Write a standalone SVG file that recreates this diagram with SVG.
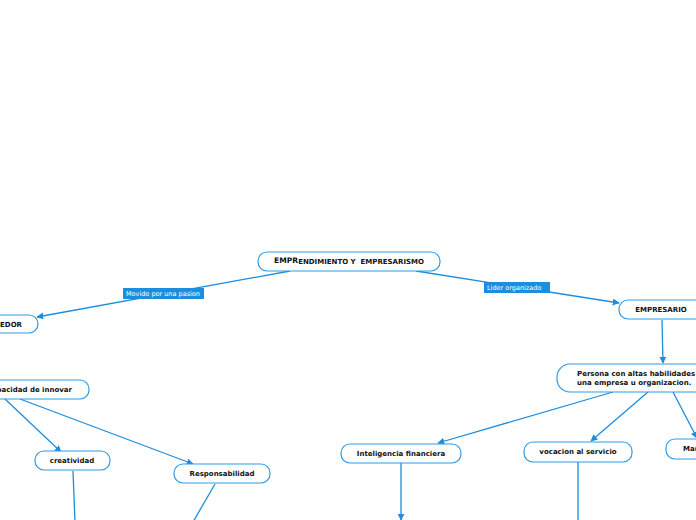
<svg xmlns="http://www.w3.org/2000/svg" width="696" height="520" viewBox="0 0 696 520">
<defs>
<marker id="ah" viewBox="0 0 10 10" refX="9" refY="5" markerWidth="7" markerHeight="7" orient="auto-start-reverse" markerUnits="userSpaceOnUse">
<path d="M0,0 L10,5 L0,10 z" fill="#1b8fdd"/>
</marker>
<style>
.n{fill:#fff;stroke:#2f9be3;stroke-width:1.2}
.t{font-family:"DejaVu Sans",Verdana,sans-serif;font-weight:bold;font-size:7px;fill:#111}
.c{stroke:#1b8fdd;stroke-width:1.3;fill:none}
.lb{fill:#1b8fdd}
.lt{font-family:"DejaVu Sans",Verdana,sans-serif;font-size:6.5px;fill:#fff}
</style>
</defs>
<rect width="696" height="520" fill="#fff"/>
<g id="connectors">
<path class="c" d="M290,271 L37,317" marker-end="url(#ah)"/>
<path class="c" d="M416,271 L619,303" marker-end="url(#ah)"/>
<path class="c" d="M662,320 L663,363" marker-end="url(#ah)"/>
<path class="c" d="M613,392 L438,443" marker-end="url(#ah)"/>
<path class="c" d="M648,392 L591,441" marker-end="url(#ah)"/>
<path class="c" d="M673,392 L697,438" marker-end="url(#ah)"/>
<path class="c" d="M401,463 L401,520" marker-end="url(#ah)"/>
<path class="c" d="M578,462 L578,522"/>
<path class="c" d="M5,399 L61,452" marker-end="url(#ah)"/>
<path class="c" d="M20,399 L193,464" marker-end="url(#ah)"/>
<path class="c" d="M73,471 L75,522"/>
<path class="c" d="M215,484 L193,522"/>
<g id="label1">
<rect class="lb" x="123" y="288" width="81" height="11"/>
<text class="lt" x="126" y="296">Movido por una pasion</text>
</g>
<g id="label2">
<rect class="lb" x="484" y="282" width="66" height="11"/>
<text class="lt" x="487" y="290">Lider organizado</text>
</g>
</g>
<g id="root">
<rect class="n" x="258" y="252" width="182" height="19" rx="9"/>
<text class="t" x="349" y="264" text-anchor="middle"><tspan font-size="7.6px" dy="-0.6">EMPR</tspan><tspan dy="0.6">ENDIMIENTO Y&#160; EMPRESARISMO</tspan></text>
</g>
<g id="emprendedor">
<rect class="n" x="-22" y="315" width="60" height="18" rx="9"/>
<text class="t" x="22" y="327" text-anchor="end">EMPRENDEDOR</text>
</g>
<g id="empresario">
<rect class="n" x="619" y="300" width="90" height="19" rx="9"/>
<text class="t" x="661" y="312" text-anchor="middle">EMPRESARIO</text>
</g>
<g id="persona">
<rect class="n" x="557" y="364" width="160" height="28" rx="13"/>
<text class="t" x="577" y="376">Persona con altas habilidades</text>
<text class="t" x="577" y="385">una empresa u organizacion.</text>
</g>
<g id="inteligencia">
<rect class="n" x="341" y="444" width="120" height="19" rx="9"/>
<text class="t" x="401" y="456" text-anchor="middle">Inteligencia financiera</text>
</g>
<g id="vocacion">
<rect class="n" x="524" y="442" width="108" height="20" rx="9"/>
<text class="t" x="578" y="454" text-anchor="middle">vocacion al servicio</text>
</g>
<g id="mar">
<rect class="n" x="666" y="439" width="50" height="20" rx="9"/>
<text class="t" x="683" y="451">Mar</text>
</g>
<g id="capacidad">
<rect class="n" x="-45" y="380" width="134" height="19" rx="9"/>
<text class="t" x="72" y="392" text-anchor="end">Capacidad de innovar</text>
</g>
<g id="creatividad">
<rect class="n" x="35" y="451" width="75" height="19" rx="9"/>
<text class="t" x="72" y="463" text-anchor="middle">creatividad</text>
</g>
<g id="responsabilidad">
<rect class="n" x="174" y="464" width="96" height="19" rx="9"/>
<text class="t" x="222" y="476" text-anchor="middle">Responsabilidad</text>
</g>
</svg>
